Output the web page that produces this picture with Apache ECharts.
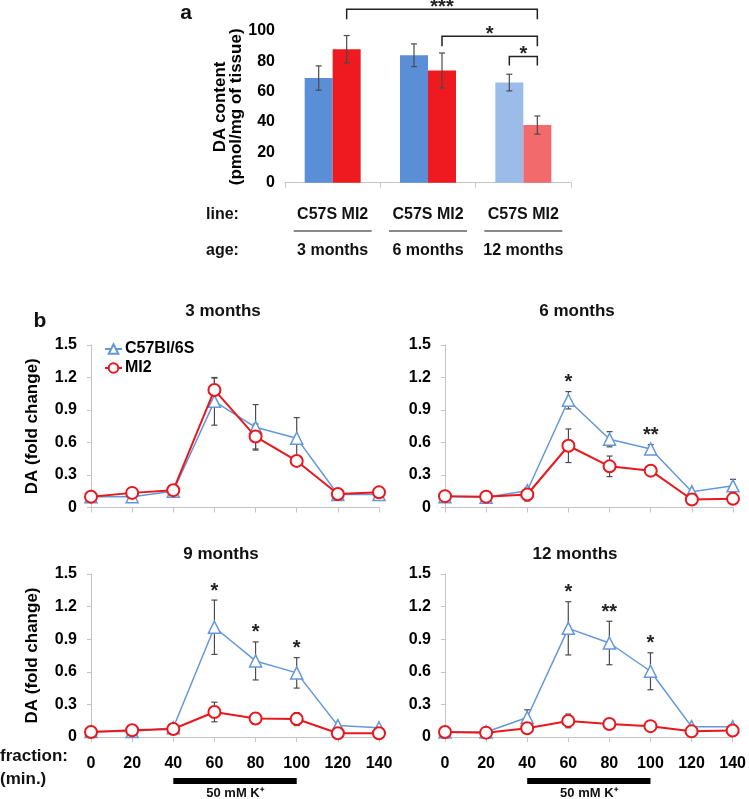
<!DOCTYPE html>
<html>
<head>
<meta charset="utf-8">
<script src="https://cdn.jsdelivr.net/npm/echarts@6/dist/echarts.min.js"></script>
<style>
html,body{margin:0;padding:0;background:#fff;}
#chart{width:749px;height:799px;}
</style>
</head>
<body>
<div id="chart"></div>
<script>
// ---------- Panel a data ----------
const ageCategories = ['3 months', '6 months', '12 months'];
const lineLabel = 'C57S MI2';
const c57Content = [69, 84, 66];
const c57ContentErr = [8, 7.5, 5.5];
const mi2Content = [88, 74, 38];
const mi2ContentErr = [9, 11.5, 6];
const contentAxis = { min: 0, max: 100, interval: 20 };
// significance brackets: [fromCat, fromSeries(0=C57,1=MI2), toCat, toSeries, topLevel, dropLevel, label]
const contentBrackets = [
  [0, 1, 2, 1, 114.4, 107.7, '***'],
  [1, 1, 2, 1, 96.5, 89.9, '*'],
  [2, 0, 2, 1, 83.2, 77.3, '*']
];

// ---------- Panel b data ----------
const fractions = [0, 20, 40, 60, 80, 100, 120, 140];
const panelTitles = ['3 months', '6 months', '9 months', '12 months'];
const c57_3m = [0.10, 0.10, 0.15, 0.98, 0.74, 0.64, 0.12, 0.12];
const c57_3mErr = [0, 0, 0, 0.22, 0.21, 0.19, 0, 0];
const mi2_3m = [0.10, 0.135, 0.16, 1.085, 0.655, 0.43, 0.125, 0.14];
const mi2_3mErr = [0, 0, 0, 0.11, 0.115, 0, 0, 0];
const c57_6m = [0.10, 0.095, 0.155, 0.99, 0.63, 0.54, 0.145, 0.20];
const c57_6mErr = [0, 0, 0, 0.08, 0.07, 0.04, 0, 0.06];
const mi2_6m = [0.105, 0.10, 0.12, 0.57, 0.38, 0.34, 0.074, 0.08];
const mi2_6mErr = [0, 0, 0.06, 0.155, 0.095, 0, 0, 0];
const c57_9m = [0.05, 0.05, 0.085, 1.01, 0.70, 0.59, 0.105, 0.085];
const c57_9mErr = [0, 0, 0, 0.25, 0.175, 0.14, 0, 0];
const mi2_9m = [0.046, 0.062, 0.074, 0.23, 0.17, 0.165, 0.035, 0.035];
const mi2_9mErr = [0, 0, 0, 0.09, 0.05, 0.06, 0, 0];
const c57_12m = [0.046, 0.046, 0.18, 1.0, 0.865, 0.605, 0.095, 0.095];
const c57_12mErr = [0, 0, 0.07, 0.245, 0.2, 0.17, 0, 0];
const mi2_12m = [0.046, 0.04, 0.08, 0.148, 0.12, 0.10, 0.052, 0.06];
const mi2_12mErr = [0, 0, 0, 0.063, 0.03, 0, 0, 0];
const stars_3m = ['', '', '', '', '', '', '', ''];
const stars_6m = ['', '', '', '*', '', '**', '', ''];
const stars_9m = ['', '', '', '*', '*', '*', '', ''];
const stars_12m = ['', '', '', '*', '**', '*', '', ''];
const foldAxis = { min: 0, max: 1.5, interval: 0.3 };
const fractionAxis = { min: 0, max: 140, interval: 20 };
const kStimulation = [40, 100];
const kLabel = '50 mM K\u207A';

// ---------- styles ----------
const FONT = '"Liberation Sans", Arial, Helvetica, sans-serif';
const BLUE = '#5a8ed6', BLUE_LIGHT = '#9bbce8';
const RED = '#ee1a1f', RED_LIGHT = '#f26a6c';
const LBLUE = '#6497d9', LRED = '#e8181e';
const AXIS_GREY = '#c4c4c4';
const ERR = '#4a4a4a';
const HALF_BAR = 14;

const panels = [
  { c57: c57_3m, c57e: c57_3mErr, mi2: mi2_3m, mi2e: mi2_3mErr, stars: stars_3m },
  { c57: c57_6m, c57e: c57_6mErr, mi2: mi2_6m, mi2e: mi2_6mErr, stars: stars_6m },
  { c57: c57_9m, c57e: c57_9mErr, mi2: mi2_9m, mi2e: mi2_9mErr, stars: stars_9m },
  { c57: c57_12m, c57e: c57_12mErr, mi2: mi2_12m, mi2e: mi2_12mErr, stars: stars_12m }
];

const chart = echarts.init(document.getElementById('chart'), null, { renderer: 'canvas' });

function errRender(offset) {
  return function (params, api) {
    const x = api.value(0), v = api.value(1), e = api.value(2);
    if (!e) return null;
    const t = api.coord([x, v + e]), b = api.coord([x, v - e]);
    const cx = t[0] + offset, cap = 3;
    const st = { stroke: ERR, lineWidth: 1.2 };
    return { type: 'group', children: [
      { type: 'line', shape: { x1: cx, y1: t[1], x2: cx, y2: b[1] }, style: st },
      { type: 'line', shape: { x1: cx - cap, y1: t[1], x2: cx + cap, y2: t[1] }, style: st },
      { type: 'line', shape: { x1: cx - cap, y1: b[1], x2: cx + cap, y2: b[1] }, style: st }
    ] };
  };
}

const grids = [
  { left: 285, top: 31, width: 286, height: 151.7 },
  { left: 91, top: 345, width: 288, height: 162.5 },
  { left: 445, top: 345, width: 288, height: 162.5 },
  { left: 91, top: 574, width: 288, height: 163 },
  { left: 445, top: 574, width: 288, height: 163 }
];

const xAxes = [{
  type: 'category', gridIndex: 0, data: ageCategories,
  axisLine: { lineStyle: { color: AXIS_GREY, width: 1 } },
  axisTick: { show: true, length: 5, lineStyle: { color: AXIS_GREY } },
  axisLabel: { show: false }
}];
const yAxes = [{
  type: 'value', gridIndex: 0, min: contentAxis.min, max: contentAxis.max, interval: contentAxis.interval,
  axisLine: { show: false }, axisTick: { show: false }, splitLine: { show: false },
  axisLabel: { color: '#000', fontWeight: 'bold', fontSize: 16, fontFamily: FONT, margin: 10 },
  name: 'DA content\n(pmol/mg of tissue)', nameLocation: 'middle', nameRotate: 90, nameGap: 40,
  nameTextStyle: { color: '#000', fontWeight: 'bold', fontSize: 17, fontFamily: FONT, lineHeight: 16 }
}];
for (let k = 0; k < 4; k++) {
  xAxes.push({
    type: 'value', gridIndex: k + 1, min: fractionAxis.min, max: fractionAxis.max, interval: fractionAxis.interval,
    axisLine: { lineStyle: { color: AXIS_GREY } },
    axisTick: { show: true, length: 5, lineStyle: { color: AXIS_GREY } },
    splitLine: { show: false },
    axisLabel: { show: k >= 2, color: '#000', fontWeight: 'bold', fontSize: 16, fontFamily: FONT, margin: 19 }
  });
  yAxes.push({
    type: 'value', gridIndex: k + 1, min: foldAxis.min, max: foldAxis.max, interval: foldAxis.interval,
    axisLine: { show: true, lineStyle: { color: AXIS_GREY } },
    axisTick: { show: true, length: 4, lineStyle: { color: AXIS_GREY } },
    splitLine: { show: false },
    axisLabel: { color: '#000', fontWeight: 'bold', fontSize: 16, fontFamily: FONT, margin: 14,
      formatter: v => (v === 0 ? '0' : v.toFixed(1)) },
    name: (k % 2 === 0) ? 'DA (fold change)' : '', nameLocation: 'middle', nameRotate: 90, nameGap: 50,
    nameTextStyle: { color: '#000', fontWeight: 'bold', fontSize: 17, fontFamily: FONT }
  });
}

const series = [];
// panel a bars
series.push({
  type: 'bar', name: 'C57S content', xAxisIndex: 0, yAxisIndex: 0, barWidth: 28, barGap: '0%',
  data: c57Content.map((v, i) => ({ value: v, itemStyle: { color: i === 2 ? BLUE_LIGHT : BLUE } })),
  z: 2
});
series.push({
  type: 'bar', name: 'MI2 content', xAxisIndex: 0, yAxisIndex: 0, barWidth: 28, barGap: '0%',
  data: mi2Content.map((v, i) => ({ value: v, itemStyle: { color: i === 2 ? RED_LIGHT : RED } })),
  z: 2
});
series.push({
  type: 'custom', xAxisIndex: 0, yAxisIndex: 0, z: 5, clip: false,
  renderItem: errRender(-HALF_BAR),
  data: c57Content.map((v, i) => [i, v, c57ContentErr[i]])
});
series.push({
  type: 'custom', xAxisIndex: 0, yAxisIndex: 0, z: 5, clip: false,
  renderItem: errRender(HALF_BAR),
  data: mi2Content.map((v, i) => [i, v, mi2ContentErr[i]])
});
series.push({
  type: 'custom', xAxisIndex: 0, yAxisIndex: 0, z: 6, clip: false,
  renderItem: function (params, api) {
    const b = contentBrackets[params.dataIndex];
    const p1 = api.coord([b[0], b[4]]), p2 = api.coord([b[2], b[4]]);
    const d1 = api.coord([b[0], b[5]]);
    const x1 = p1[0] + (b[1] ? HALF_BAR : -HALF_BAR);
    const x2 = p2[0] + (b[3] ? HALF_BAR : -HALF_BAR);
    const st = { stroke: '#222', lineWidth: 1.5 };
    return { type: 'group', children: [
      { type: 'polyline', shape: { points: [[x1, d1[1]], [x1, p1[1]], [x2, p1[1]], [x2, d1[1]]] }, style: { ...st, fill: null } },
      { type: 'text', x: (x1 + x2) / 2, y: p1[1] - 2, style: { text: b[6], fill: '#222', font: 'bold 20px ' + FONT, align: 'center', verticalAlign: 'middle' } }
    ] };
  },
  data: contentBrackets.map((b, i) => [b[0], b[4], i])
});

panels.forEach((p, k) => {
  const ax = k + 1;
  series.push({ type: 'custom', xAxisIndex: ax, yAxisIndex: ax, z: 1, renderItem: errRender(0),
    data: fractions.map((f, i) => [f, p.c57[i], p.c57e[i]]) });
  series.push({ type: 'custom', xAxisIndex: ax, yAxisIndex: ax, z: 1, renderItem: errRender(0),
    data: fractions.map((f, i) => [f, p.mi2[i], p.mi2e[i]]) });
  series.push({
    type: 'line', name: 'C57Bl/6S', xAxisIndex: ax, yAxisIndex: ax, z: 3,
    data: fractions.map((f, i) => [f, p.c57[i]]),
    symbol: 'triangle', symbolSize: 12, showAllSymbol: true,
    lineStyle: { color: LBLUE, width: 1.5 },
    itemStyle: { color: '#fff', borderColor: LBLUE, borderWidth: 1.5 }
  });
  series.push({
    type: 'line', name: 'MI2', xAxisIndex: ax, yAxisIndex: ax, z: 4,
    data: fractions.map((f, i) => [f, p.mi2[i]]),
    symbol: 'circle', symbolSize: 12, showAllSymbol: true,
    lineStyle: { color: LRED, width: 2 },
    itemStyle: { color: '#fff', borderColor: LRED, borderWidth: 2 }
  });
  series.push({
    type: 'custom', xAxisIndex: ax, yAxisIndex: ax, z: 6, clip: false,
    renderItem: function (params, api) {
      const lbl = p.stars[params.dataIndex];
      if (!lbl) return null;
      const pt = api.coord([api.value(0), api.value(1)]);
      return { type: 'text', x: pt[0], y: pt[1] + 1, style: { text: lbl, fill: '#222', font: 'bold 20px ' + FONT, align: 'center', verticalAlign: 'bottom' } };
    },
    data: fractions.map((f, i) => [f, p.c57[i] + p.c57e[i]])
  });
});

chart.setOption({
  animation: false,
  backgroundColor: '#fff',
  textStyle: { fontFamily: FONT },
  grid: grids,
  xAxis: xAxes,
  yAxis: yAxes,
  legend: {
    data: ['C57Bl/6S', 'MI2'], orient: 'vertical', left: 99, top: 336,
    itemWidth: 17, itemHeight: 12, itemGap: 3,
    textStyle: { color: '#000', fontWeight: 'bold', fontSize: 16, fontFamily: FONT, padding: [0, 0, 0, -2] }
  },
  series: series
});

// ---------- annotations positioned from the axes ----------
const g = [];
const txt = (x, y, s, size, align) => ({ type: 'text', x: x, y: y, z: 100,
  style: { text: s, fill: '#111', font: 'bold ' + size + 'px ' + FONT, align: align || 'center', verticalAlign: 'middle' } });
g.push(txt(186, 13, 'a', 21, 'center'));
g.push(txt(40, 321, 'b', 21, 'center'));
g.push(txt(206, 215, 'line:', 16, 'left'));
g.push(txt(206, 251, 'age:', 16, 'left'));
ageCategories.forEach((c, i) => {
  const cx = chart.convertToPixel({ xAxisIndex: 0 }, i);
  g.push(txt(cx, 215, lineLabel, 16));
  g.push({ type: 'line', z: 100, shape: { x1: cx - 39, y1: 231, x2: cx + 39, y2: 231 }, style: { stroke: '#8a8a8a', lineWidth: 2 } });
  g.push(txt(cx, 251, c, 16));
});
const titlePos = [[223, 311], [577, 311], [221, 554], [575, 554]];
panelTitles.forEach((t, k) => g.push(txt(titlePos[k][0], titlePos[k][1], t, 17)));
g.push(txt(0, 756, 'fraction:', 17, 'left'));
g.push(txt(0, 779, '(min.)', 17, 'left'));
[3, 4].forEach(ax => {
  const x1 = chart.convertToPixel({ xAxisIndex: ax }, kStimulation[0]);
  const x2 = chart.convertToPixel({ xAxisIndex: ax }, kStimulation[1]);
  g.push({ type: 'rect', z: 100, shape: { x: x1, y: 778, width: x2 - x1, height: 6 }, style: { fill: '#000' } });
  g.push(txt((x1 + x2) / 2, 793, kLabel, 13));
});
chart.setOption({ graphic: g });
</script>
</body>
</html>
